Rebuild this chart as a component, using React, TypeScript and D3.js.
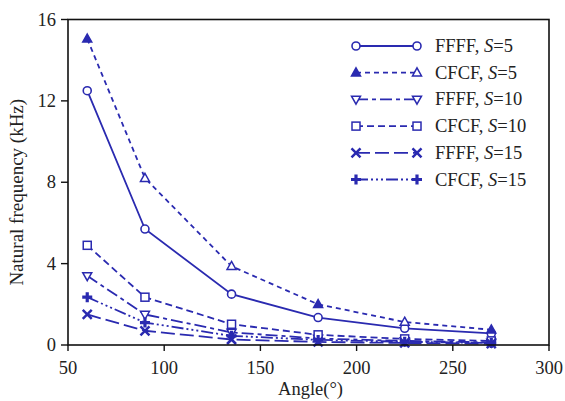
import React from "react";
import * as d3 from "d3";

const angles = [60, 90, 135, 180, 225, 270];
const ffffS5 = [12.5, 5.7, 2.5, 1.35, 0.82, 0.57];
const cfcfS5 = [15.05, 8.2, 3.87, 2.0, 1.13, 0.75];
const ffffS10 = [3.4, 1.5, 0.62, 0.32, 0.2, 0.13];
const cfcfS10 = [4.9, 2.35, 1.02, 0.5, 0.3, 0.2];
const ffffS15 = [1.5, 0.7, 0.27, 0.15, 0.1, 0.07];
const cfcfS15 = [2.35, 1.1, 0.45, 0.25, 0.16, 0.1];
const xTicks = [50, 100, 150, 200, 250, 300];
const yTicks = [0, 4, 8, 12, 16];

type Marker = "circle" | "triUp" | "triDown" | "square" | "cross" | "plus";
const series: { name: string; s: string; values: number[]; marker: Marker; dash: string }[] = [
  { name: "FFFF, ", s: "5", values: ffffS5, marker: "circle", dash: "none" },
  { name: "CFCF, ", s: "5", values: cfcfS5, marker: "triUp", dash: "5 4" },
  { name: "FFFF, ", s: "10", values: ffffS10, marker: "triDown", dash: "12 4 4 4" },
  { name: "CFCF, ", s: "10", values: cfcfS10, marker: "square", dash: "7 4" },
  { name: "FFFF, ", s: "15", values: ffffS15, marker: "cross", dash: "14 5" },
  { name: "CFCF, ", s: "15", values: cfcfS15, marker: "plus", dash: "12 3 2 3 2 3 2 3" },
];

const COLOR = "#2a2ab0";
const W = 565, H = 401;
const M = { left: 68, right: 549, top: 19.5, bottom: 345 };

function MarkerShape({ type, x, y, filled }: { type: Marker; x: number; y: number; filled?: boolean }) {
  const fill = filled ? COLOR : "white";
  switch (type) {
    case "circle":
      return <circle cx={x} cy={y} r={4} fill="white" stroke={COLOR} strokeWidth={1.6} />;
    case "triUp":
      return <path d={`M${x},${y - 4.8}L${x + 4.5},${y + 3.2}L${x - 4.5},${y + 3.2}Z`} fill={fill} stroke={COLOR} strokeWidth={1.5} />;
    case "triDown":
      return <path d={`M${x},${y + 4.8}L${x + 4.5},${y - 3.2}L${x - 4.5},${y - 3.2}Z`} fill="white" stroke={COLOR} strokeWidth={1.5} />;
    case "square":
      return <rect x={x - 4} y={y - 4} width={8} height={8} fill="white" stroke={COLOR} strokeWidth={1.5} />;
    case "cross":
      return <path d={`M${x - 4.5},${y - 4.5}L${x + 4.5},${y + 4.5}M${x - 4.5},${y + 4.5}L${x + 4.5},${y - 4.5}`} stroke={COLOR} strokeWidth={2.5} />;
    case "plus":
      return <path d={`M${x - 5},${y}L${x + 5},${y}M${x},${y - 5}L${x},${y + 5}`} stroke={COLOR} strokeWidth={3.2} />;
  }
}

export default function App() {
  const x = d3.scaleLinear().domain([50, 300]).range([M.left, M.right]);
  const y = d3.scaleLinear().domain([0, 16]).range([M.bottom, M.top]);
  const line = d3.line<[number, number]>().x((d) => x(d[0])).y((d) => y(d[1]));
  const font = "'Liberation Serif', 'Times New Roman', serif";
  const fs = 18.5;
  const legendY0 = 46, legendDy = 26.7;
  return (
    <svg width={W} height={H} style={{ position: "absolute", left: 0, top: 0, background: "white" }} fontFamily={font}>
      <rect width={W} height={H} fill="white" />
      {series.map((s, i) => (
        <g key={i}>
          <path d={line(angles.map((a, j) => [a, s.values[j]]) as [number, number][]) || ""} fill="none" stroke={COLOR} strokeWidth={1.8} strokeDasharray={s.dash} />
          {angles.map((a, j) => (
            <MarkerShape key={j} type={s.marker} x={x(a)} y={y(s.values[j])} filled={s.marker === "triUp" && (j === 0 || j === 3 || j === 5)} />
          ))}
        </g>
      ))}
      <rect x={M.left} y={M.top} width={M.right - M.left} height={M.bottom - M.top} fill="none" stroke="#111" strokeWidth={1.6} />
      {xTicks.map((t) => (
        <g key={t}>
          <line x1={x(t)} x2={x(t)} y1={M.bottom} y2={M.bottom + 6} stroke="#111" strokeWidth={1.4} />
          <text x={x(t)} y={M.bottom + 29} textAnchor="middle" fontSize={fs} fill="#222">{t}</text>
        </g>
      ))}
      {yTicks.map((t) => (
        <g key={t}>
          <line x1={M.left - 7} x2={M.left} y1={y(t)} y2={y(t)} stroke="#111" strokeWidth={1.4} />
          <text x={M.left - 12} y={y(t) + 6} textAnchor="end" fontSize={fs} fill="#222">{t}</text>
        </g>
      ))}
      <text x={(M.left + M.right) / 2 + 2} y={395} textAnchor="middle" fontSize={fs} fill="#222">Angle(°)</text>
      <text transform={`translate(23,${(M.top + M.bottom) / 2 + 10}) rotate(-90)`} textAnchor="middle" fontSize={19} fill="#222">Natural frequency (kHz)</text>
      {series.map((s, i) => {
        const ly = legendY0 + i * legendDy;
        return (
          <g key={i}>
            <line x1={356} x2={417} y1={ly} y2={ly} stroke={COLOR} strokeWidth={1.8} strokeDasharray={s.dash} />
            <MarkerShape type={s.marker} x={356} y={ly} filled={s.marker === "triUp"} />
            <MarkerShape type={s.marker} x={417} y={ly} />
            <text x={435} y={ly + 6} fontSize={fs} fill="#222">
              {s.name}
              <tspan fontStyle="italic">S</tspan>={s.s}
            </text>
          </g>
        );
      })}
    </svg>
  );
}
